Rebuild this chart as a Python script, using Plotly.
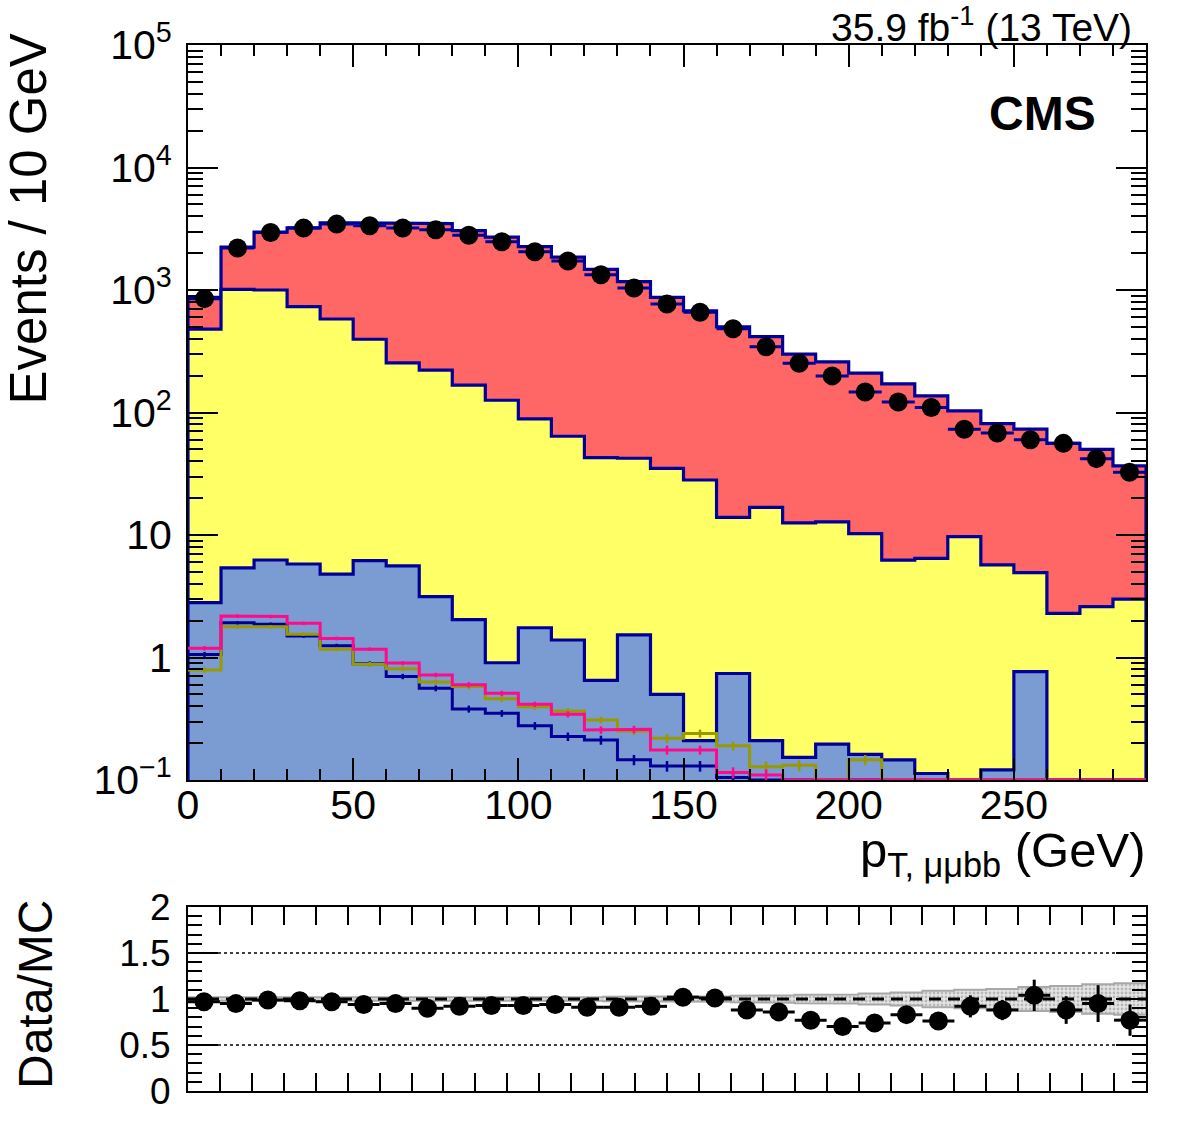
import numpy as np
import plotly.graph_objects as go

W, H = 1182, 1121

# ---------------- data ----------------
bin_edges = list(range(0, 300, 10))          # 0..290, 29 bins (top panel)
ratio_edges = list(range(0, 310, 10))        # 0..300, 30 bins (ratio panel)

# stacked backgrounds (per-component contributions, events / 10 GeV)
bkg_red = [390, 1227, 1970, 2489, 2950, 3134, 3225, 3258, 2883, 2574, 2172, 1791,
           1432, 1128, 835, 647, 487, 399, 287, 246, 199, 165, 130, 93.3, 75.3,
           68.1, 53.7, 47.4, 33.7]
bkg_yellow = [477, 1008, 994, 725, 575, 390, 249, 219, 165, 125, 86.8, 62.6, 42.2,
              40.8, 34.5, 27.9, 13.2, 16.6, 12.4, 12.6, 10.1, 6.10, 6.34, 9.70,
              5.58, 4.16, 2.29, 2.60, 3.00]
bkg_lblue = [2.8, 5.4, 6.25, 5.8, 4.8, 6.17, 5.6, 3.14, 2.04, 0.906, 1.75, 1.39,
             0.65, 1.53, 0.50, 0.21, 0.74, 0.21, 0.153, 0.196, 0.162, 0.146, 0.113,
             0, 0.121, 0.766, 0, 0, 0]

# data
data_vals = [850, 2200, 2950, 3200, 3450, 3350, 3200, 3100, 2800, 2480, 2055, 1725,
             1333, 1038, 769, 658, 483, 344, 252, 199, 147, 122, 110, 73, 68, 60,
             56, 42, 32.5]

# signal lines (not stacked)
sig_pink = [1.19, 2.18, 2.16, 1.90, 1.43, 1.17, 0.90, 0.72, 0.60, 0.51, 0.415,
            0.344, 0.256, 0.259, 0.176, 0.176, 0.115, 0.110, 0, 0, 0, 0, 0, 0, 0,
            0, 0, 0, 0]
sig_pink_err = [0.05, 0.07, 0.07, 0.06, 0.05, 0.04, 0.035, 0.03, 0.03, 0.025, 0.02,
                0.02, 0.018, 0.018, 0.015, 0.015, 0.012, 0.012, 0, 0, 0, 0, 0, 0,
                0, 0, 0, 0, 0]
sig_olive = [0.79, 1.78, 1.78, 1.55, 1.17, 0.88, 0.81, 0.63, 0.58, 0.46, 0.397,
             0.366, 0.309, 0.251, 0.219, 0.240, 0.19, 0.128, 0.132, 0, 0.146, 0,
             0, 0, 0, 0, 0, 0, 0]
sig_olive_err = [0.04, 0.06, 0.06, 0.05, 0.045, 0.04, 0.035, 0.03, 0.03, 0.025,
                 0.022, 0.02, 0.02, 0.018, 0.018, 0.018, 0.016, 0.014, 0.014, 0,
                 0.014, 0, 0, 0, 0, 0, 0, 0, 0]
sig_dkblue = [1.06, 1.92, 1.87, 1.50, 1.25, 0.89, 0.70, 0.56, 0.38, 0.35, 0.277,
              0.226, 0.212, 0.146, 0.130, 0.130, 0.105, 0, 0, 0, 0, 0, 0, 0, 0, 0,
              0, 0, 0]
sig_dkblue_err = [0.05, 0.06, 0.06, 0.05, 0.045, 0.04, 0.035, 0.03, 0.025, 0.022,
                  0.02, 0.018, 0.018, 0.014, 0.013, 0.013, 0.012, 0, 0, 0, 0, 0,
                  0, 0, 0, 0, 0, 0, 0]

# ratio panel
ratio_vals = [0.97, 0.95, 0.99, 0.98, 0.97, 0.94, 0.95, 0.90, 0.92, 0.93, 0.93, 0.94,
              0.91, 0.91, 0.92, 1.02, 1.01, 0.88, 0.86, 0.77, 0.70, 0.74, 0.83, 0.76,
              0.92, 0.88, 1.04, 0.88, 0.95, 0.77]
ratio_err = [0.03, 0.03, 0.03, 0.03, 0.03, 0.03, 0.03, 0.03, 0.03, 0.03, 0.035, 0.035,
             0.04, 0.04, 0.045, 0.05, 0.05, 0.055, 0.06, 0.065, 0.07, 0.08, 0.085,
             0.09, 0.12, 0.11, 0.17, 0.15, 0.20, 0.17]
band_halfwidth = [0.02, 0.015, 0.015, 0.015, 0.015, 0.015, 0.015, 0.015, 0.015, 0.02,
                  0.02, 0.02, 0.02, 0.025, 0.025, 0.03, 0.03, 0.035, 0.04, 0.045,
                  0.05, 0.06, 0.07, 0.09, 0.10, 0.11, 0.13, 0.14, 0.16, 0.17]

y_tickvals = [0.1, 1, 10, 100, 1000, 10000, 100000]
y_ticktext = ["10<sup>\u22121</sup>", "1", "10", "10<sup>2</sup>", "10<sup>3</sup>",
              "10<sup>4</sup>", "10<sup>5</sup>"]
x_tickvals = [0, 50, 100, 150, 200, 250]
r_tickvals = [0, 0.5, 1, 1.5, 2]
r_ticktext = ["0", "0.5", "1", "1.5", "2"]

# ---------------- styling ----------------
FONT = "Liberation Sans"
C_RED = "#ff6666"
C_YEL = "#ffff66"
C_LBLUE = "#7b9bd3"
C_OUT = "#000099"
C_PINK = "#ff0a8c"
C_OLIVE = "#999900"

FLOOR = 0.1          # zero bins drawn at the axis floor (ROOT behaviour)
BOTTOM = 1e-3        # polygon base, below visible range


def px_x(p):
    return p / W


def px_y(p):
    return 1 - p / H


def step_poly(edges, vals, base):
    xs, ys = [edges[0]], [base]
    for i, v in enumerate(vals):
        v = max(v, FLOOR)
        xs += [edges[i], edges[i + 1]]
        ys += [v, v]
    xs.append(edges[-1])
    ys.append(base)
    return xs, ys


def step_line(edges, vals):
    xs, ys = [], []
    for i, v in enumerate(vals):
        v = max(v, FLOOR)
        xs += [edges[i], edges[i + 1]]
        ys += [v, v]
    return xs, ys


edges = bin_edges
centers = [(edges[i] + edges[i + 1]) / 2 for i in range(len(edges) - 1)]
r_centers = [(ratio_edges[i] + ratio_edges[i + 1]) / 2 for i in range(len(ratio_edges) - 1)]

lb = np.array(bkg_lblue, dtype=float)
yel_cum = lb + np.array(bkg_yellow, dtype=float)
tot_cum = yel_cum + np.array(bkg_red, dtype=float)

fig = go.Figure()

# stacked fills, drawn top-of-stack first
for cum, col in [(tot_cum, C_RED), (yel_cum, C_YEL), (lb, C_LBLUE)]:
    xs, ys = step_poly(edges, list(cum), BOTTOM)
    fig.add_trace(go.Scatter(x=xs, y=ys, mode="lines", fill="toself", fillcolor=col,
                             line=dict(color=C_OUT, width=3.2), xaxis="x", yaxis="y",
                             hoverinfo="skip", showlegend=False))

# signal lines
for vals, errs, col in [(sig_dkblue, sig_dkblue_err, C_OUT),
                        (sig_olive, sig_olive_err, C_OLIVE),
                        (sig_pink, sig_pink_err, C_PINK)]:
    xs, ys = step_line(edges, vals)
    fig.add_trace(go.Scatter(x=xs, y=ys, mode="lines", line=dict(color=col, width=3),
                             xaxis="x", yaxis="y", hoverinfo="skip", showlegend=False))
    cx = [c for c, v in zip(centers, vals) if v > 0]
    cy = [v for v in vals if v > 0]
    ce = [e for e, v in zip(errs, vals) if v > 0]
    fig.add_trace(go.Scatter(x=cx, y=cy, mode="markers",
                             marker=dict(size=1, color=col),
                             error_y=dict(type="data", array=ce, color=col, thickness=2.5, width=0),
                             xaxis="x", yaxis="y", hoverinfo="skip", showlegend=False))

# data points
fig.add_trace(go.Scatter(x=centers, y=data_vals, mode="markers",
                         marker=dict(color="black", size=19),
                         error_x=dict(type="constant", value=5, color=C_OUT, thickness=3, width=0),
                         xaxis="x", yaxis="y", hoverinfo="skip", showlegend=False))

# ---------------- ratio panel ----------------
up = [1 + h for h in band_halfwidth]
dn = [1 - h for h in band_halfwidth]
bx, by = [], []
for i in range(len(up)):
    bx += [ratio_edges[i], ratio_edges[i + 1]]
    by += [up[i], up[i]]
for i in reversed(range(len(dn))):
    bx += [ratio_edges[i + 1], ratio_edges[i]]
    by += [dn[i], dn[i]]
bx.append(bx[0])
by.append(by[0])
fig.add_trace(go.Scatter(x=bx, y=by, mode="lines", fill="toself",
                         fillcolor="#e2e2e2",
                         fillpattern=dict(shape=".", fgcolor="#8a8a8a", bgcolor="#e6e6e6",
                                          size=4, solidity=0.4),
                         line=dict(color="#a8a8a8", width=2),
                         xaxis="x2", yaxis="y2", hoverinfo="skip", showlegend=False))

for yv, dash, wd in [(0.5, "dot", 1.5), (1.5, "dot", 1.5), (1.0, "12px,7px", 3)]:
    fig.add_trace(go.Scatter(x=[ratio_edges[0], ratio_edges[-1]], y=[yv, yv], mode="lines",
                             line=dict(color="black", width=wd, dash=dash),
                             xaxis="x2", yaxis="y2", hoverinfo="skip", showlegend=False))

fig.add_trace(go.Scatter(x=r_centers, y=ratio_vals, mode="markers",
                         marker=dict(color="black", size=19),
                         error_x=dict(type="constant", value=5, color="black", thickness=3, width=0),
                         error_y=dict(type="data", array=ratio_err, color="black", thickness=3, width=0),
                         xaxis="x2", yaxis="y2", hoverinfo="skip", showlegend=False))

# ---------------- axes ----------------
xdom = [px_x(188), px_x(1146)]
minor_x = [v for v in range(10, 290, 10) if v % 50 != 0]
minor_y = [k * 10.0 ** d for d in range(-1, 5) for k in range(2, 10)]
minor_r = [round(0.1 * k, 2) for k in range(1, 20) if k % 5 != 0]

axis_common = dict(showgrid=False, zeroline=False, showline=True, linecolor="black",
                   linewidth=2, mirror="allticks", ticks="inside", tickcolor="black",
                   tickwidth=2, automargin=False)

fig.update_layout(
    width=W, height=H, autosize=False,
    margin=dict(l=0, r=0, t=0, b=0, autoexpand=False),
    paper_bgcolor="white", plot_bgcolor="white",
    font=dict(family=FONT, color="black", size=41),
    showlegend=False,
    xaxis=dict(domain=xdom, range=[0, 290], anchor="y", tickvals=x_tickvals,
               ticklen=22, tickfont=dict(size=41), ticklabelstandoff=-12,
               minor=dict(tickvals=minor_x, ticklen=11, ticks="inside",
                          tickcolor="black", tickwidth=2, showgrid=False),
               **axis_common),
    yaxis=dict(domain=[px_y(780), px_y(45)], type="log", range=[-1, 5], anchor="x",
               tickvals=y_tickvals, ticktext=y_ticktext, ticklen=30,
               tickfont=dict(size=41), ticklabelstandoff=6,
               minor=dict(tickvals=minor_y, ticklen=15, ticks="inside",
                          tickcolor="black", tickwidth=2, showgrid=False),
               **axis_common),
    xaxis2=dict(domain=xdom, range=[0, 300], anchor="y2",
                tickvals=ratio_edges, showticklabels=False, ticklen=18,
                **axis_common),
    yaxis2=dict(domain=[px_y(1091), px_y(907)], range=[0, 2], anchor="x2",
                tickvals=r_tickvals, ticktext=r_ticktext, ticklen=30,
                tickfont=dict(size=37), ticklabelstandoff=8,
                minor=dict(tickvals=minor_r, ticklen=14, ticks="inside",
                           tickcolor="black", tickwidth=2, showgrid=False),
                **axis_common),
)

# ---------------- texts ----------------
ann = [
    dict(text="35.9 fb<sup>-1</sup> (13 TeV)", x=px_x(1134), y=px_y(24),
         xanchor="right", yanchor="middle", font=dict(size=39)),
    dict(text="<b>CMS</b>", x=px_x(1098), y=px_y(113), xanchor="right",
         yanchor="middle", font=dict(size=48)),
    dict(text="Events / 10 GeV", x=px_x(28), y=px_y(32), xanchor="center",
         yanchor="top", textangle=-90, font=dict(size=51)),
    dict(text="p<sub>T, \u03bc\u03bcbb</sub> (GeV)", x=px_x(1147), y=px_y(853),
         xanchor="right", yanchor="middle", font=dict(size=49)),
    dict(text="Data/MC", x=px_x(35), y=px_y(995), xanchor="center",
         yanchor="middle", textangle=-90, font=dict(size=48)),
]
for a in ann:
    fig.add_annotation(xref="paper", yref="paper", showarrow=False,
                       font_family=FONT, font_color="black", **{k: v for k, v in a.items()})

fig.write_html("out.html")
